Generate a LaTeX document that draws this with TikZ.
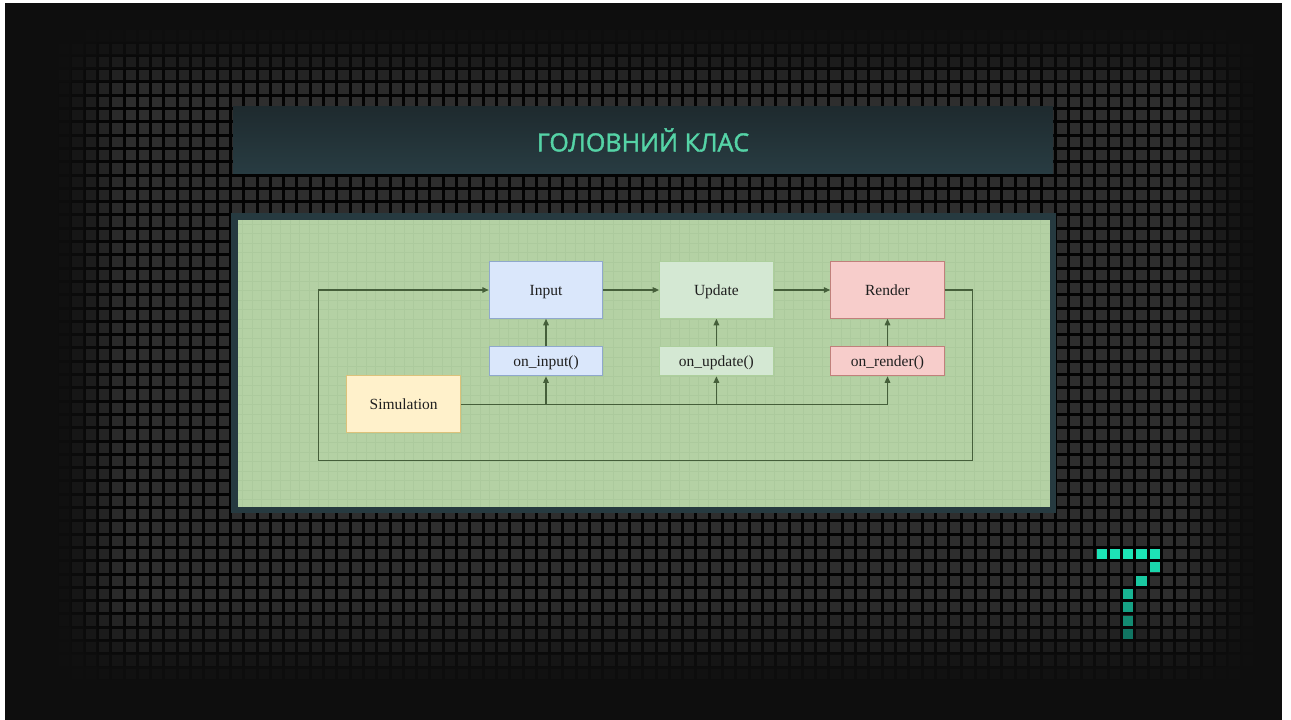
\documentclass[tikz,border=0pt]{standalone}
\usepackage{fontspec}
\setmainfont{Liberation Serif}
\newfontfamily\titlefont[FakeBold=1.6]{Open Sans}
\usetikzlibrary{arrows.meta}

\definecolor{pagebg}{HTML}{0E0E0E}
\definecolor{sqc}{HTML}{2E2E2E}
\definecolor{seam}{HTML}{030303}
\definecolor{titletop}{HTML}{1E2A2E}
\definecolor{titlebot}{HTML}{283C42}
\definecolor{titletext}{HTML}{55D3A6}
\definecolor{panelframe}{HTML}{263A40}
\definecolor{panelfill}{HTML}{B4D1A4}
\definecolor{panelgrid}{HTML}{ACCA9D}
\definecolor{wire}{HTML}{455F3A}
\definecolor{inputfill}{HTML}{DAE7FB}
\definecolor{inputdraw}{HTML}{8FA8CC}
\definecolor{updatefill}{HTML}{D4E8D3}
\definecolor{updatedraw}{HTML}{ADCF9D}
\definecolor{renderfill}{HTML}{F7CDCB}
\definecolor{renderdraw}{HTML}{C0807B}
\definecolor{simfill}{HTML}{FFF1CB}
\definecolor{simdraw}{HTML}{DCC27A}
\definecolor{logoA}{HTML}{1DE3B6}
\definecolor{logoB}{HTML}{1BD6AC}
\definecolor{logoC}{HTML}{1AC8A1}
\definecolor{logoD}{HTML}{18B493}
\definecolor{logoE}{HTML}{16A184}
\definecolor{logoF}{HTML}{138B72}
\definecolor{logoG}{HTML}{107562}

\tikzset{
  box/.style={rectangle, line width=1pt, inner sep=0pt, text=black!88,
    text height=10.5pt, text depth=0.3pt,
    font=\fontsize{15.5}{18}\selectfont},
  bigbox/.style={box, minimum width=113.5pt, minimum height=56.5pt},
  smallbox/.style={box, minimum width=113.5pt, minimum height=29pt},
  inputbox/.style={fill=inputfill, draw=inputdraw},
  updatebox/.style={fill=updatefill, draw=updatedraw},
  renderbox/.style={fill=renderfill, draw=renderdraw},
  simbox/.style={bigbox, fill=simfill, draw=simdraw},
  flow/.style={draw=wire, line width=1.4pt, -{Triangle[length=6.5pt,width=5.5pt]}},
  plain/.style={draw=wire, line width=1.4pt},
  logocell/.style={fill=#1},
  declare function={cl(\t)=max(0,min(1,\t)); sm(\t)=cl(\t)*cl(\t)*(3-2*cl(\t));}
}

\begin{document}
\begin{tikzpicture}[x=1pt,y=-1pt]
\useasboundingbox (0,0) rectangle (1291,720);
\fill[white] (0,0) rectangle (1291,720);
\fill[pagebg] (5,3) rectangle (1282,720);

% tiled backdrop: each tile and its seam are blended into the page colour
\foreach \n in {-77,...,15} {
  \pgfmathsetmacro\gx{1055+13.3*\n}
  \pgfmathsetmacro\fx{sm((\gx+6.65-50)/85)*sm((1262-\gx-6.65)/92)}
  \ifdim\fx pt>0.01pt
  \foreach \m in {-11,...,38} {
    \pgfmathsetmacro\gy{175+13.3*\m}
    \pgfmathsetmacro\p{100*\fx*sm((\gy+6.65-25)/80)*sm((692-\gy-6.65)/105)}
    \ifdim\p pt>1pt
      \fill[seam!\p!pagebg] (\gx,\gy) rectangle ++(13.3,13.3);
      \fill[sqc!\p!pagebg] (\gx+1.5,\gy+1.5) rectangle ++(10.3,10.3);
    \fi
  }
  \fi
}

% logo "7"
\foreach \n/\m/\c in {3/28/logoA,4/28/logoA,5/28/logoA,6/28/logoA,7/28/logoA,
                      7/29/logoB,6/30/logoC,5/31/logoD,5/32/logoE,5/33/logoF,5/34/logoG}
  \fill[logocell=\c] (1055+13.3*\n+1.6,175+13.3*\m+1.6) rectangle ++(10.1,10.1);

% title bar
\shade[top color=titletop, bottom color=titlebot] (233,106) rectangle (1053,173);
\node[font=\titlefont\fontsize{25}{30}\selectfont, text=titletext] (title) at (643,140) {ГОЛОВНИЙ КЛАС};

% diagram panel
\fill[panelframe] (231,213) rectangle (1056,513);
\fill[panelfill] (238,220) rectangle (1049.5,507);
\begin{scope}
\clip (238,220) rectangle (1049.5,507);
\foreach \k in {-27,...,59}
  \draw[panelgrid, line width=0.6pt] (489.3+9.5*\k,220) -- (489.3+9.5*\k,507);
\foreach \k in {-5,...,26}
  \draw[panelgrid, line width=0.6pt] (238,262+9.5*\k) -- (1049.5,262+9.5*\k);
\end{scope}

% stages
\node[bigbox, inputbox]  (input)  at (546,290)   {Input};
\node[bigbox, updatebox] (update) at (716.4,290) {Update};
\node[bigbox, renderbox] (render) at (887.5,290) {Render};
\node[smallbox, inputbox]  (oninput)  at (546,361.3)   {on\_input()};
\node[smallbox, updatebox] (onupdate) at (716.4,361.3) {on\_update()};
\node[smallbox, renderbox] (onrender) at (887.5,361.3) {on\_render()};
\node[simbox] (sim) at (403.7,404.2) {Simulation};

% main loop
\draw[flow] (input) -- (update);
\draw[flow] (update) -- (render);
\coordinate (loopA) at (972.3,290);
\coordinate (loopB) at (972.3,460.7);
\coordinate (loopC) at (318.3,460.7);
\coordinate (loopD) at (318.3,290);
\draw[flow] (render.east) -- (loopA) -- (loopB) -- (loopC) -- (loopD) -- (input.west);

% hooks
\draw[flow] (oninput) -- (input);
\draw[flow] (onupdate) -- (update);
\draw[flow] (onrender) -- (render);

% simulation bus
\coordinate (busA) at (oninput.south |- sim.east);
\coordinate (busB) at (onupdate.south |- sim.east);
\coordinate (busC) at (onrender.south |- sim.east);
\draw[plain] (sim.east) -- (busC);
\draw[flow] (busA) -- (oninput.south);
\draw[flow] (busB) -- (onupdate.south);
\draw[flow] (busC) -- (onrender.south);
\end{tikzpicture}
\end{document}
